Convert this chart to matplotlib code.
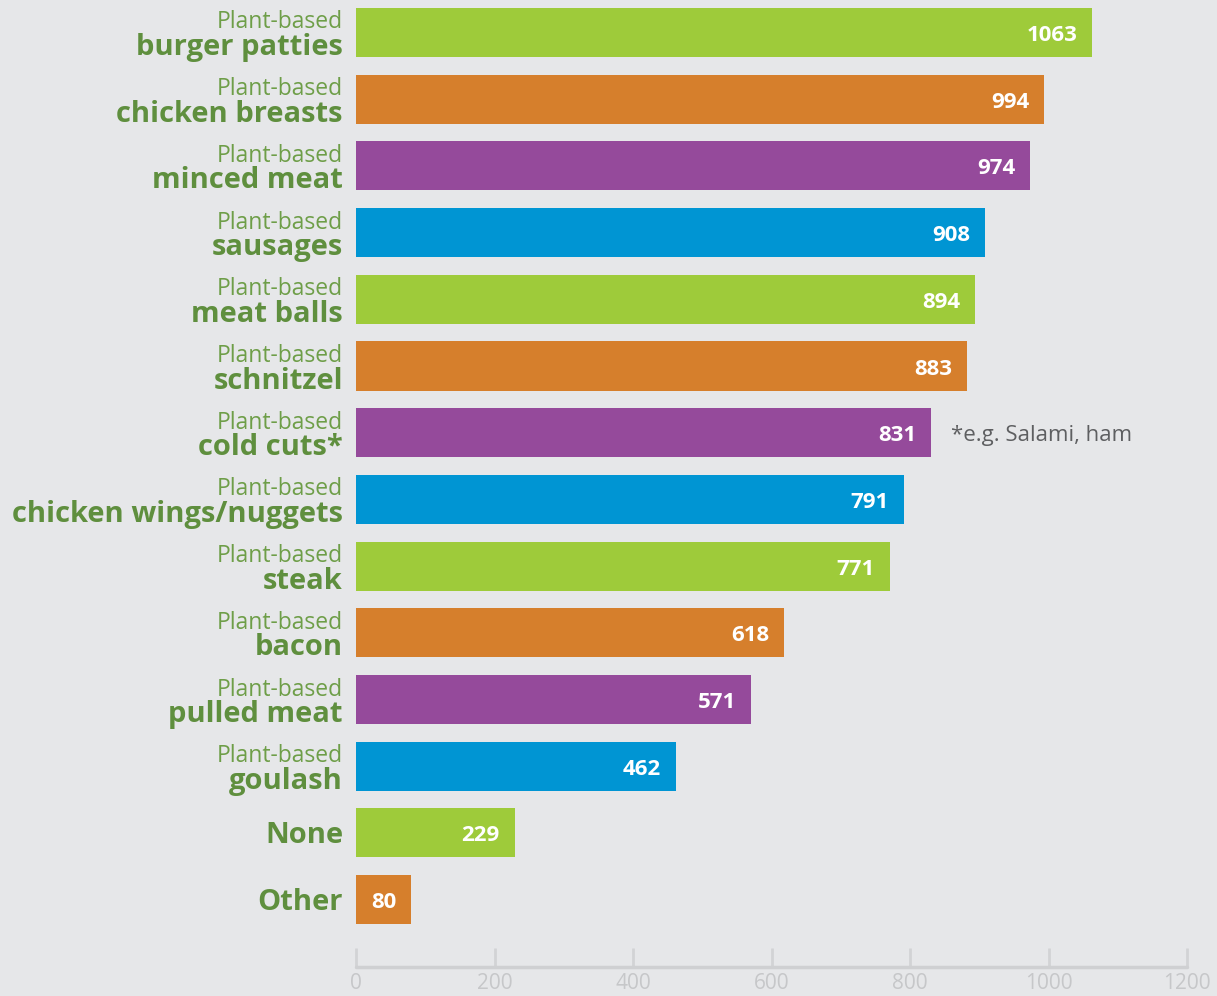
import matplotlib
matplotlib.use("Agg")
import matplotlib.pyplot as plt
import matplotlib.transforms as mtransforms

# Survey responses: plant-based products
prefixes = ["Plant-based"] * 12 + ["", ""]
products = ["burger patties", "chicken breasts", "minced meat", "sausages",
            "meat balls", "schnitzel", "cold cuts*", "chicken wings/nuggets",
            "steak", "bacon", "pulled meat", "goulash", "None", "Other"]
counts = [1063, 994, 974, 908, 894, 883, 831, 791, 771, 618, 571, 462, 229, 80]
x_ticks = [0, 200, 400, 600, 800, 1000, 1200]
footnote = "*e.g. Salami, ham"

palette = ["#9ECB3A", "#D67F2C", "#954A9B", "#0095D3"]
bg = "#E6E7E9"
label_green = "#5F8F3E"
light_green = "#6E9E48"

W, H, DPI = 1217, 996, 100
fig = plt.figure(figsize=(W / DPI, H / DPI), dpi=DPI, facecolor=bg)
ax = fig.add_axes([356 / W, (H - 967) / H, (1187 - 356) / W, 967 / H])
ax.set_facecolor(bg)

font = "Open Sans"
ys = list(range(len(counts)))
colors = [palette[i % 4] for i in ys]
ax.barh(ys, counts, height=0.735, color=colors, zorder=2)

ax.set_xlim(0, 1200)
ax.set_ylim(14.01, -0.487)

# value labels inside the bar ends
val_off = mtransforms.offset_copy(ax.transData, fig=fig, x=-15, y=-3, units="dots")
for y, v in zip(ys, counts):
    ax.text(v, y, str(v), transform=val_off, ha="right", va="center",
            color="white", fontsize=16, fontweight="bold", family=font)

# category labels to the left of the axis
lab_tr = mtransforms.blended_transform_factory(
    mtransforms.offset_copy(ax.transAxes, fig=fig, x=-13, y=0, units="dots"),
    ax.transData)
for y, pre, name in zip(ys, prefixes, products):
    if pre:
        tr1 = mtransforms.offset_copy(lab_tr, fig=fig, x=0, y=10, units="dots")
        tr2 = mtransforms.offset_copy(lab_tr, fig=fig, x=0, y=-15, units="dots")
        ax.text(0, y, pre, transform=tr1, ha="right", va="center",
                color=light_green, fontsize=16.5, family=font)
        ax.text(0, y, name, transform=tr2, ha="right", va="center",
                color=label_green, fontsize=21, fontweight="bold", family=font)
    else:
        tr = mtransforms.offset_copy(lab_tr, fig=fig, x=0, y=-3, units="dots")
        ax.text(0, y, name, transform=tr, ha="right", va="center",
                color=label_green, fontsize=21, fontweight="bold", family=font)

# footnote next to the cold cuts bar
idx = products.index("cold cuts*")
fn_tr = mtransforms.offset_copy(ax.transData, fig=fig, x=20, y=-3, units="dots")
ax.text(counts[idx], idx, footnote, transform=fn_tr, ha="left", va="center",
        color="#5E5F61", fontsize=16, family=font)

# axis styling
for s in ["top", "right", "left"]:
    ax.spines[s].set_visible(False)
ax.spines["bottom"].set_color("#CFD0D2")
ax.spines["bottom"].set_linewidth(2.5)
ax.spines["bottom"].set_capstyle("round")
ax.set_yticks([])
ax.set_xticks(x_ticks)
ax.set_xticklabels([str(t) for t in x_ticks], family=font, fontsize=15,
                   color="#C6C7C9")
ax.tick_params(axis="x", direction="in", length=14, width=2, color="#D2D3D5",
               pad=4)

fig.savefig("out.png", dpi=DPI, facecolor=bg)
